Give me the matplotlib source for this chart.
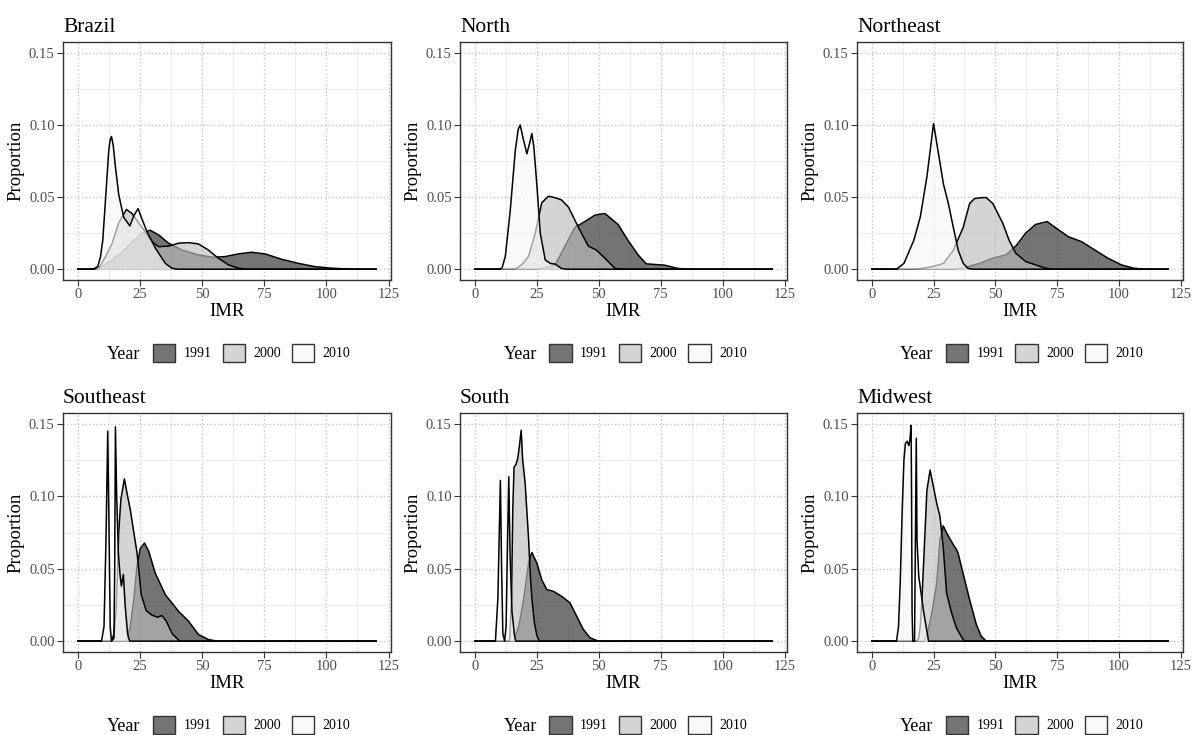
import numpy as np
import matplotlib
matplotlib.use("Agg")
import matplotlib.pyplot as plt
from matplotlib.patches import Patch

plt.rcParams['font.family'] = ['Liberation Serif', 'DejaVu Serif']

years = ['1991', '2000', '2010']
fills = ['#4d4d4d', '#bdbdbd', '#f7f7f7']
alphas = [0.78, 0.65, 0.65]

# density curves: (IMR, proportion)
brazil_1991 = [(0, 0), (5.7, 0), (9.8, 0.002), (13.8, 0.0064), (17.8, 0.012), (21.8, 0.019),
               (25.8, 0.0248), (29.1, 0.027), (32.5, 0.0237), (36.5, 0.018), (41.8, 0.0133),
               (48.5, 0.0099), (53.9, 0.0083), (59.2, 0.0087), (64.6, 0.0106), (69.9, 0.0117),
               (75.3, 0.0106), (81.9, 0.0069), (88.6, 0.0041), (95.3, 0.0018), (102, 0.0007),
               (110, 0), (120, 0)]
brazil_2000 = [(0, 0), (6.5, 0), (8.4, 0.0007), (11.1, 0.0087), (13.8, 0.018), (16.4, 0.032),
               (19.5, 0.0414), (21.8, 0.0386), (24.5, 0.032), (27.1, 0.026), (29.8, 0.019),
               (32.5, 0.0156), (36.5, 0.016), (40.5, 0.018), (44.5, 0.0184), (48.5, 0.0175),
               (52.5, 0.0133), (56.5, 0.0076), (60.6, 0.003), (64.6, 0.0007), (68, 0), (120, 0)]
brazil_2010 = [(0, 0), (6.5, 0), (8, 0.002), (9.1, 0.0087), (10, 0.02), (11.1, 0.048),
               (12.4, 0.082), (13, 0.09), (13.5, 0.092), (14.2, 0.086), (15.1, 0.071),
               (16.4, 0.052), (18.4, 0.036), (20.9, 0.030), (22.5, 0.037), (24.2, 0.042),
               (25.5, 0.036), (27.8, 0.026), (31.2, 0.0145), (35.2, 0.004), (37.8, 0.0007),
               (40, 0), (120, 0)]

north_1991 = [(0, 0), (24, 0), (28, 0.0007), (32.4, 0.003), (36.4, 0.016), (40.4, 0.029),
              (44.4, 0.033), (48.5, 0.0375), (52.5, 0.0386), (57.8, 0.031), (61.8, 0.020),
              (65.9, 0.0099), (69.2, 0.0037), (73.2, 0.0032), (76.6, 0.0028), (82, 0.0005),
              (86, 0), (120, 0)]
north_2000 = [(0, 0), (15, 0), (17, 0.0007), (19.5, 0.004), (21.7, 0.009), (24.4, 0.025),
              (27, 0.046), (29.7, 0.0506), (32.5, 0.0495), (35, 0.048), (37.8, 0.043),
              (41.8, 0.029), (45.8, 0.016), (49, 0.0133), (52.5, 0.0076), (56.5, 0.0007),
              (58, 0), (120, 0)]
north_2010 = [(0, 0), (10, 0), (11, 0.001), (12.3, 0.009), (14.3, 0.041), (16.3, 0.082),
              (17.5, 0.097), (18.3, 0.100), (19.3, 0.092), (21, 0.080), (22.2, 0.088),
              (23, 0.094), (23.8, 0.085), (25, 0.059), (26.4, 0.025), (28.4, 0.0064),
              (30.5, 0.004), (32.4, 0.0035), (35, 0.0005), (37, 0), (120, 0)]

ne_1991 = [(0, 0), (33, 0), (38.3, 0.0014), (43.6, 0.004), (49, 0.0076), (54.3, 0.0099),
           (58.3, 0.016), (62.3, 0.025), (66.3, 0.031), (71, 0.033), (75, 0.028),
           (79.6, 0.0225), (85, 0.019), (90.3, 0.0133), (95.6, 0.0076), (101, 0.003),
           (106, 0.0007), (110, 0), (120, 0)]
ne_2000 = [(0, 0), (17, 0), (21, 0.0007), (25, 0.002), (29, 0.004), (33, 0.013), (37, 0.029),
           (39.6, 0.0455), (41.6, 0.049), (44, 0.0495), (46.3, 0.0497), (49, 0.0455),
           (53, 0.032), (55.6, 0.020), (58.3, 0.011), (62.3, 0.0053), (66.3, 0.003),
           (70.3, 0.0007), (73, 0), (120, 0)]
ne_2010 = [(0, 0), (10, 0), (13, 0.004), (17, 0.020), (19.6, 0.036), (22.3, 0.064),
           (25, 0.101), (27, 0.080), (29, 0.059), (31, 0.0455), (33, 0.029), (35, 0.013),
           (37, 0.004), (39, 0.0005), (41, 0), (120, 0)]

se_1991 = [(0, 0), (19.5, 0), (21.1, 0.010), (22.5, 0.029), (23.8, 0.052), (25.1, 0.064),
           (26.8, 0.0677), (28.5, 0.062), (31.1, 0.047), (35.2, 0.032), (40.5, 0.0206),
           (44.5, 0.0138), (48.5, 0.0046), (52.5, 0.0011), (56, 0), (120, 0)]
se_2000 = [(0, 0), (13.5, 0), (14.5, 0.005), (15.3, 0.02), (15.9, 0.045), (16.4, 0.0745),
           (17.3, 0.098), (18.7, 0.112), (20, 0.100), (21.1, 0.0906), (22.5, 0.075),
           (23.8, 0.061), (25.5, 0.032), (27.5, 0.021), (29.8, 0.018), (32, 0.0165),
           (33.8, 0.0177), (35.5, 0.014), (38, 0.005), (41, 0), (120, 0)]
se_2010 = [(0, 0), (9.5, 0), (10.5, 0.01), (11.3, 0.07), (12, 0.145), (12.5, 0.08), (13, 0.01),
           (13.5, 0), (14.5, 0.002), (14.8, 0.05), (15.1, 0.148), (15.6, 0.10), (16.3, 0.06),
           (17, 0.045), (17.5, 0.038), (18.3, 0.046), (19, 0.025), (20, 0.005), (20.8, 0),
           (120, 0)]

south_1991 = [(0, 0), (15.7, 0), (17.7, 0.010), (19.7, 0.0287), (21.7, 0.054), (23, 0.0612),
              (25, 0.054), (27, 0.0424), (29, 0.0356), (31.7, 0.0344), (35, 0.031),
              (38.4, 0.0264), (41.1, 0.0172), (43.8, 0.008), (46.5, 0.0023), (49.8, 0), (120, 0)]
south_2000 = [(0, 0), (14, 0), (14.8, 0.03), (15.3, 0.09), (15.8, 0.12), (16.6, 0.122),
              (17.3, 0.126), (18, 0.135), (18.7, 0.1456), (19.3, 0.125), (20.3, 0.109),
              (21.7, 0.070), (22.4, 0.045), (23, 0.03), (24, 0.013), (25, 0.004), (26, 0), (120, 0)]
south_2010 = [(0, 0), (8.3, 0), (9.3, 0.03), (10.3, 0.111), (10.8, 0.05), (11.3, 0.005), (12, 0),
              (12.6, 0.01), (13.2, 0.07), (13.7, 0.1135), (14.2, 0.06), (15, 0.02), (16, 0.004),
              (16.5, 0), (120, 0)]

mw_1991 = [(0, 0), (21, 0), (22.5, 0.005), (24.3, 0.0195), (26.3, 0.040), (27.6, 0.070),
           (28.9, 0.0796), (30.5, 0.074), (32.5, 0.068), (34, 0.064), (34.9, 0.061),
           (36.9, 0.047), (39.6, 0.0287), (42.3, 0.0115), (44.3, 0.0034), (46.3, 0), (120, 0)]
mw_2000 = [(0, 0), (18.3, 0), (19, 0.002), (19.7, 0.012), (20.3, 0.029), (21, 0.055),
           (22.3, 0.104), (23.6, 0.118), (24.9, 0.107), (26.3, 0.095), (27.6, 0.086),
           (28.9, 0.065), (30.3, 0.033), (32.3, 0.0195), (34.3, 0.009), (37, 0.001), (38, 0),
           (120, 0)]
mw_2010 = [(0, 0), (10, 0), (10.8, 0.01), (11.5, 0.04), (12.3, 0.09), (13, 0.125),
           (13.6, 0.1365), (14.3, 0.138), (15, 0.135), (15.5, 0.14), (15.9, 0.149), (16.1, 0.10),
           (16.3, 0.02), (16.6, 0), (17.3, 0), (17.6, 0.06), (18, 0.14), (18.3, 0.07),
           (19, 0.045), (21, 0.02), (23, 0), (120, 0)]

regions = ['Brazil', 'North', 'Northeast', 'Southeast', 'South', 'Midwest']
curves = [
    [brazil_1991, brazil_2000, brazil_2010],
    [north_1991, north_2000, north_2010],
    [ne_1991, ne_2000, ne_2010],
    [se_1991, se_2000, se_2010],
    [south_1991, south_2000, south_2010],
    [mw_1991, mw_2000, mw_2010],
]

W, H = 1193, 735
fig = plt.figure(figsize=(W / 100, H / 100), dpi=100)

lefts = [63, 460, 857]
widths = [328, 327, 326]
tops = [42, 413]
heights = [238, 239]

for i, name in enumerate(regions):
    r, c = divmod(i, 3)
    ax = fig.add_axes([lefts[c] / W, 1 - (tops[r] + heights[r]) / H, widths[c] / W, heights[r] / H])

    for k in range(3):
        pts = np.array(curves[i][k])
        ax.fill_between(pts[:, 0], pts[:, 1], 0, color=fills[k], alpha=alphas[k], lw=0, zorder=2 + k)
        ax.plot(pts[:, 0], pts[:, 1], color='black', lw=1.1, zorder=2 + k)

    ax.set_xlim(-6, 126)
    ax.set_ylim(-0.0075, 0.1575)
    ax.set_xticks([0, 25, 50, 75, 100, 125])
    ax.set_yticks([0, 0.05, 0.10, 0.15])
    ax.set_yticklabels(['0.00', '0.05', '0.10', '0.15'])
    ax.set_xticks(np.arange(12.5, 126, 25), minor=True)
    ax.set_yticks([0.025, 0.075, 0.125], minor=True)
    ax.grid(which='major', color='#c4c4c4', linestyle=':', lw=1.0, zorder=0)
    ax.grid(which='minor', color='#ececec', linestyle='-', lw=0.8, zorder=0)
    ax.set_axisbelow(True)
    ax.tick_params(which='major', length=4, width=0.8, color='#333333', labelcolor='#4d4d4d',
                   labelsize=10.5, pad=2)
    ax.tick_params(which='minor', length=0)
    for sp in ax.spines.values():
        sp.set_color('#333333')
        sp.set_linewidth(1.0)

    ax.set_title(name, loc='left', fontsize=15.5, pad=7)
    ax.set_xlabel('IMR', fontsize=13.5, labelpad=1)
    ax.set_ylabel('Proportion', fontsize=13.5, labelpad=3)

    handles = [Patch(facecolor=(*matplotlib.colors.to_rgb(fills[k]), alphas[k]),
                     edgecolor='#333333', lw=1.0) for k in range(3)]
    ax.legend(handles, years, loc='center', bbox_to_anchor=(0.575, -0.305), ncol=3,
              frameon=False, fontsize=10, handlelength=1.6, handleheight=1.6,
              handletextpad=0.6, columnspacing=0.8)
    ax.text(0.235, -0.312, 'Year', transform=ax.transAxes, ha='right', va='center', fontsize=13)

fig.savefig('out.png', dpi=100)
